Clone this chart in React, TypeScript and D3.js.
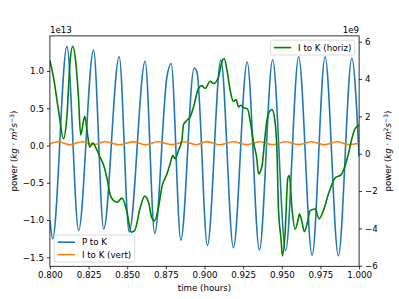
import React, { useEffect, useRef } from 'react';
import * as d3 from 'd3';

// P to K  (left axis, units of 1e13)
const pToKTime = [0.8, 0.8018, 0.811, 0.8186, 0.8282, 0.8348, 0.8448, 0.8513, 0.8616, 0.8678, 0.8757, 0.8784, 0.8847, 0.8933, 0.8952, 0.9019, 0.9106, 0.9187, 0.9276, 0.9355, 0.9441, 0.9525, 0.9609, 0.9696, 0.978, 0.9866, 0.9953, 1.0];
const pToKValue = [-1.0, -1.25, 1.33, -1.14, 1.28, -1.12, 1.19, -1.16, 1.13, -1.18, 0.92, 1.1, -1.27, 1.04, 0.98, -1.34, 1.15, -1.37, 1.12, -1.4, 1.15, -1.41, 1.19, -1.47, 1.19, -1.48, 1.17, -0.15];

// I to K (vert)  (left axis, units of 1e13)
const iToKVertTime = [0.8, 0.8054, 0.813, 0.8207, 0.8283, 0.8358, 0.8448, 0.8539, 0.862, 0.87, 0.8788, 0.8875, 0.8945, 0.9015, 0.91, 0.9185, 0.9272, 0.936, 0.9441, 0.9522, 0.9608, 0.9694, 0.9775, 0.9856, 0.9935, 1.0];
const iToKVertValue = [0.02, 0.05, 0.01, 0.05, 0.012, 0.05, 0.01, 0.052, 0.01, 0.05, 0.012, 0.05, 0.01, 0.052, 0.01, 0.05, 0.012, 0.05, 0.01, 0.05, 0.012, 0.05, 0.01, 0.05, 0.012, 0.03];

// I to K (horiz)  (right axis, units of 1e9)
const iToKHorizTime = [
  0.8, 0.8023, 0.8056, 0.8088, 0.811, 0.8131, 0.8147, 0.8168, 0.8185, 0.8199,
  0.8225, 0.8241, 0.8257, 0.8277, 0.8304, 0.8325, 0.8347, 0.8369, 0.839, 0.8411,
  0.8435, 0.8466, 0.8498, 0.8526, 0.8548, 0.8584, 0.8613, 0.8638, 0.8658, 0.8676,
  0.8702, 0.8724, 0.8757, 0.8778, 0.8795, 0.881, 0.8832, 0.8854, 0.8864, 0.8881,
  0.8907, 0.8929, 0.8961, 0.8983, 0.9004, 0.9037, 0.9058, 0.909, 0.9112, 0.9127,
  0.9145, 0.9166, 0.9187, 0.9205, 0.922, 0.9235, 0.9252, 0.9278, 0.9295, 0.9317,
  0.9339, 0.9349, 0.9371, 0.9389, 0.9399, 0.9414, 0.9436, 0.9452, 0.9468, 0.9478,
  0.9496, 0.9504, 0.9521, 0.9539, 0.9549, 0.9565, 0.9586, 0.9604, 0.9614, 0.9629,
  0.9646, 0.9668, 0.9683, 0.9716, 0.9741, 0.9769, 0.9802, 0.9845, 0.9884, 0.9898,
  0.9931, 0.9953, 0.9974, 1.0,
];
const iToKHorizValue = [
  5.0, 4.1, 2.3, 0.8, 2.0, 5.0, 5.75, 4.84, 3.0, 1.0,
  2.0, 1.2, 0.35, 0.57, 0.2, -0.2, -0.6, -1.3, -2.2, -2.5,
  -2.6, -2.38, -3.1, -4.2, -4.12, -2.9, -2.27, -2.6, -3.4, -3.6,
  -2.9, -1.8, -1.08, -0.54, -0.1, -0.27, 0.18, 0.75, 1.55, 1.75,
  1.97, 2.5, 3.5, 3.65, 3.49, 3.88, 3.76, 4.1, 4.9, 5.1,
  4.5, 3.4, 2.8, 2.9, 2.5, 2.6, 2.47, 2.4, 1.79, 0.6,
  -0.3, -1.08, -0.7, 0.7, 1.5, 2.15, 2.37, 1.97, 0.35, -2.87,
  -4.66, -5.47, -4.3, -1.3, -1.17, -2.87, -4.05, -3.59, -3.23, -3.6,
  -4.18, -3.59, -3.05, -2.96, -3.49, -3.05, -2.15, -1.3, -1.12, -0.9,
  0.0, 0.8, 1.34, 1.52,
];

const xTicks = [0.8, 0.825, 0.85, 0.875, 0.9, 0.925, 0.95, 0.975, 1.0];
const leftTicks = [-1.5, -1.0, -0.5, 0.0, 0.5, 1.0];
const rightTicks = [-6, -4, -2, 0, 2, 4, 6];

const W = 399;
const H = 299;
const FONT = '"DejaVu Sans", sans-serif';
const FS = 8.66;
const LW = 1.6;

const App = () => {
  const ref = useRef<SVGSVGElement>(null);

  useEffect(() => {
    const svg = d3.select(ref.current);
    svg.selectAll('*').remove();

    const left = 49.9, right = 359.1, top = 35.9, bottom = 266.3;
    const pad = (e: [number, number]) => {
      const r = e[1] - e[0];
      return [e[0] - 0.05 * r, e[1] + 0.05 * r];
    };

    const x = d3.scaleLinear().domain([0.8, 1.0]).range([left, right]);
    const yL = d3
      .scaleLinear()
      .domain(pad(d3.extent([...pToKValue, ...iToKVertValue]) as [number, number]))
      .range([bottom, top]);
    const yR = d3
      .scaleLinear()
      .domain(pad(d3.extent(iToKHorizValue) as [number, number]))
      .range([bottom, top]);

    svg.append('rect').attr('width', W).attr('height', H).attr('fill', '#fff');
    svg
      .append('clipPath')
      .attr('id', 'plotclip')
      .append('rect')
      .attr('x', left)
      .attr('y', top)
      .attr('width', right - left)
      .attr('height', bottom - top);

    const path = (t: number[], v: number[], y: d3.ScaleLinear<number, number>) =>
      d3
        .line<number>()
        .x((_, i) => x(t[i]))
        .y(d => y(d))
        .curve(d3.curveMonotoneX)(v);

    const addLine = (d: string | null, color: string) =>
      svg
        .append('path')
        .attr('d', d)
        .attr('fill', 'none')
        .attr('stroke', color)
        .attr('stroke-width', LW)
        .attr('stroke-linejoin', 'round')
        .attr('clip-path', 'url(#plotclip)');

    // main axes lines
    addLine(path(pToKTime, pToKValue, yL), '#1f77b4');
    addLine(path(iToKVertTime, iToKVertValue, yL), '#ff7f0e');

    const styleAxis = (g: d3.Selection<SVGGElement, unknown, null, undefined>) => {
      g.select('.domain').remove();
      g.selectAll('line').attr('stroke', '#000').attr('stroke-width', 0.8);
      g.selectAll('text').attr('fill', '#000').style('font-family', FONT).style('font-size', `${FS}px`);
    };

    svg
      .append('g')
      .attr('transform', `translate(0,${bottom})`)
      .call(d3.axisBottom(x).tickValues(xTicks).tickFormat(d3.format('.3f')).tickSize(3).tickPadding(3))
      .call(styleAxis);
    svg
      .append('g')
      .attr('transform', `translate(${left},0)`)
      .call(d3.axisLeft(yL).tickValues(leftTicks).tickFormat(d3.format('.1f')).tickSize(3).tickPadding(3))
      .call(styleAxis);

    const text = (tx: number, ty: number, s: string, anchor = 'start') =>
      svg
        .append('text')
        .attr('x', tx)
        .attr('y', ty)
        .attr('text-anchor', anchor)
        .style('font-family', FONT)
        .style('font-size', `${FS}px`)
        .attr('fill', '#000')
        .text(s);

    text(left, 33.2, '1e13');

    const ylabel = (tx: number) => {
      const t = svg
        .append('text')
        .attr('transform', `translate(${tx},${(top + bottom) / 2}) rotate(-90)`)
        .attr('text-anchor', 'middle')
        .style('font-family', FONT)
        .style('font-size', `${FS}px`)
        .attr('fill', '#000');
      t.append('tspan').text('power (');
      t.append('tspan').style('font-style', 'italic').text('kg');
      t.append('tspan').text(' · ');
      t.append('tspan').style('font-style', 'italic').text('m');
      t.append('tspan').attr('dy', -3.3).style('font-size', '6.1px').text('2');
      t.append('tspan').attr('dy', 3.3).style('font-style', 'italic').text('s');
      t.append('tspan').attr('dy', -3.3).style('font-size', '6.1px').text('−3');
      t.append('tspan').attr('dy', 3.3).text(')');
    };
    ylabel(17.3);

    text((left + right) / 2, 291, 'time (hours)', 'middle');

    const legend = (
      x0: number,
      y0: number,
      w: number,
      rows: { label: string; color: string; cy: number }[],
      h: number
    ) => {
      svg
        .append('rect')
        .attr('x', x0)
        .attr('y', y0)
        .attr('width', w)
        .attr('height', h)
        .attr('rx', 2)
        .attr('fill', '#fff')
        .attr('fill-opacity', 0.8)
        .attr('stroke', '#cccccc')
        .attr('stroke-width', 0.7);
      rows.forEach(r => {
        svg
          .append('line')
          .attr('x1', x0 + 3.5)
          .attr('x2', x0 + 3.5 + 17.3)
          .attr('y1', r.cy)
          .attr('y2', r.cy)
          .attr('stroke', r.color)
          .attr('stroke-width', LW);
        text(x0 + 3.5 + 17.3 + 6.9, r.cy + 3.1, r.label);
      });
    };

    legend(54.2, 235, 80.5, [
      { label: 'P to K', color: '#1f77b4', cy: 242.2 },
      { label: 'I to K (vert)', color: '#ff7f0e', cy: 254.6 },
    ], 27);

    // twin axes
    addLine(path(iToKHorizTime, iToKHorizValue, yR), 'green');

    svg
      .append('g')
      .attr('transform', `translate(${right},0)`)
      .call(d3.axisRight(yR).tickValues(rightTicks).tickFormat(d3.format('d')).tickSize(3).tickPadding(3))
      .call(styleAxis);

    svg
      .append('rect')
      .attr('x', left)
      .attr('y', top)
      .attr('width', right - left)
      .attr('height', bottom - top)
      .attr('fill', 'none')
      .attr('stroke', '#000')
      .attr('stroke-width', 0.8);

    text(right, 33.2, '1e9', 'end');
    ylabel(391);

    legend(270.4, 40.2, 84.4, [{ label: 'I to K (horiz)', color: 'green', cy: 47.6 }], 14.8);
  }, []);

  return (
    <svg
      ref={ref}
      width={W}
      height={H}
      style={{ position: 'absolute', left: 0, top: 0, display: 'block' }}
    />
  );
};

export default App;
